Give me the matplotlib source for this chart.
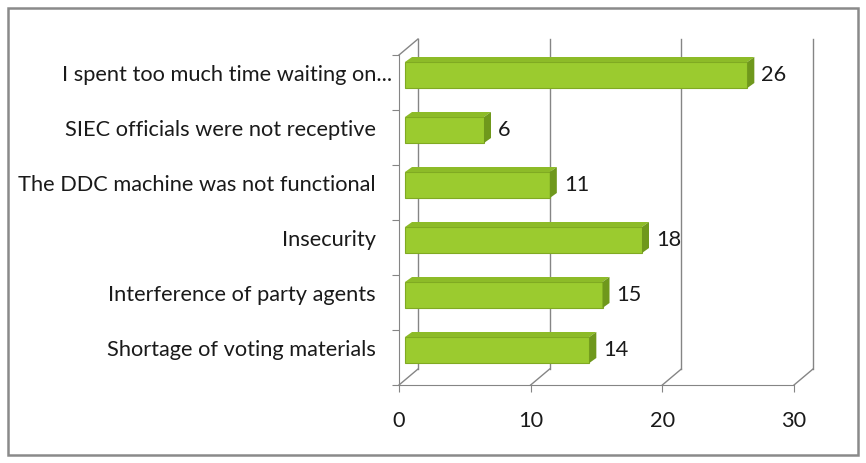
# Horizontal "3D" bar chart: problems reported at the polling unit

import numpy as np
import matplotlib.pyplot as plt
from matplotlib.patches import Polygon, Rectangle

# Data
categories = ['I spent too much time waiting on...',
              'SIEC officials were not receptive',
              'The DDC machine was not functional',
              'Insecurity',
              'Interference of party agents',
              'Shortage of voting materials']
values = [26, 6, 11, 18, 15, 14]
xticks = [0, 10, 20, 30]

plt.rcParams['font.family'] = ['Lato', 'DejaVu Sans']
W, H = 866, 463
grey = '#858585'
txt = '#1a1a1a'
fs = 15.7

fig = plt.figure(figsize=(W / 100, H / 100), dpi=100)
fig.patches.append(Rectangle((8 / W, 8 / H), 850 / W, 447 / H, transform=fig.transFigure,
                             fill=False, ec='#8a8a8a', lw=1.8))

ax = fig.add_axes([399 / W, 1 - 385 / H, 395 / W, 330 / H])
ax.set_xlim(0, 30)
ax.set_ylim(len(categories) - 0.5, -0.5)
pxx = 30 / 395.0          # data units per pixel (x)
pxy = 1 / 55.0            # data units per pixel (y)

# depth of the back wall
ddx, ddy = 19 * pxx, -16 * pxy
ytop, ybot = -0.5, len(categories) - 0.5
for t in xticks:
    ax.plot([t + ddx, t + ddx], [ybot + ddy, ytop + ddy], color=grey, lw=1, clip_on=False)
    ax.plot([t, t + ddx], [ybot, ybot + ddy], color=grey, lw=1, clip_on=False)
ax.plot([0, ddx], [ytop, ytop + ddy], color=grey, lw=1, clip_on=False)

# bars
y = np.arange(len(categories))
bdx, bdy = 6 * pxx, -7.5 * pxy     # bar front face offset
h = 26 * pxy
cdx, cdy = 7 * pxx, -5 * pxy       # bar depth
yc = y + bdy
ax.barh(yc, values, left=bdx, height=h, color='#9bcb2f', edgecolor='#80aa22', lw=0.8, zorder=3)
for yi, v in zip(yc, values):
    xr = v + bdx
    yt, yb = yi - h / 2, yi + h / 2
    ax.add_patch(Polygon([(bdx, yt), (xr, yt), (xr + cdx, yt + cdy), (bdx + cdx, yt + cdy)],
                         closed=True, fc='#8dbb28', ec='none', zorder=3, clip_on=False))
    ax.add_patch(Polygon([(xr, yt), (xr, yb), (xr + cdx, yb + cdy), (xr + cdx, yt + cdy)],
                         closed=True, fc='#6f981c', ec='none', zorder=3, clip_on=False))
    ax.text(xr + cdx + 7 * pxx, yi, str(v), va='center', ha='left', fontsize=fs, color=txt)

# category labels (the truncated one sits closer to the axis, as in Excel)
for yi, c in zip(yc, categories):
    off = 7 if c.endswith('...') else 23
    ax.text(-off * pxx, yi, c, va='center', ha='right', fontsize=fs, color=txt)

# axes
for s in ['top', 'right']:
    ax.spines[s].set_visible(False)
for s in ['left', 'bottom']:
    ax.spines[s].set_color(grey)
ax.set_xticks(xticks)
ax.set_yticks(np.arange(-0.5, len(categories)))
ax.set_yticklabels([])
ax.tick_params(axis='y', length=5, color=grey)
ax.tick_params(axis='x', length=5, color=grey, pad=14, labelsize=fs, labelcolor=txt)
ax.patch.set_alpha(0)

plt.savefig('out.png')
